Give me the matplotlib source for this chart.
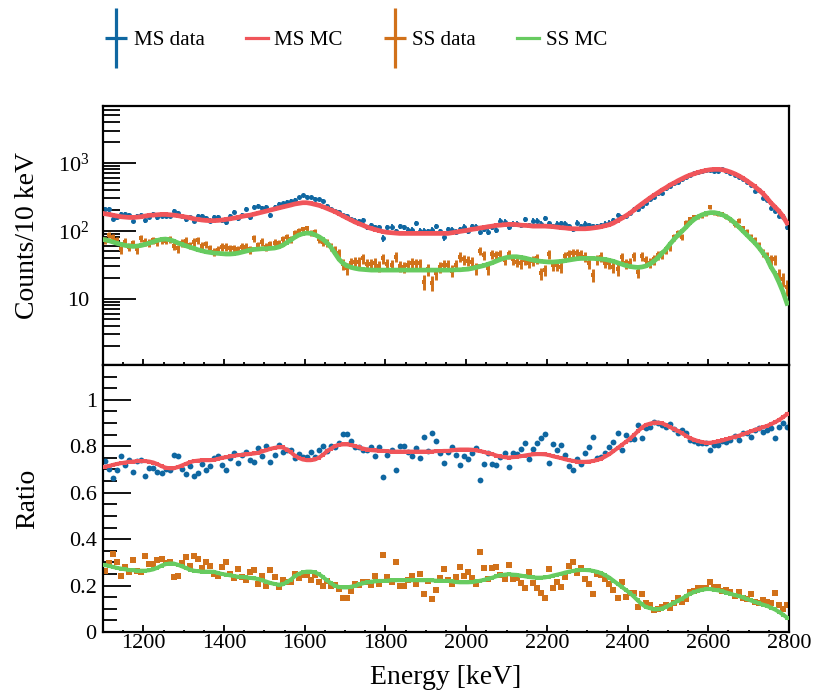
import numpy as np
import matplotlib
matplotlib.use("Agg")
import matplotlib.pyplot as plt
from matplotlib.path import Path
from matplotlib.lines import Line2D
from matplotlib.ticker import (FixedLocator, MultipleLocator, LogLocator,
                               FuncFormatter, NullFormatter)

plt.rcParams['font.family'] = ['Liberation Serif', 'DejaVu Serif']
plt.rcParams['mathtext.fontset'] = 'custom'
plt.rcParams['mathtext.rm'] = 'Liberation Serif'
plt.rcParams['mathtext.default'] = 'regular'

# ---------------- data (10 keV bins, 1100-2800 keV) ----------------
bin_width = 10
e_min, e_max = 1100, 2800
energy = np.arange(e_min + bin_width / 2, e_max, bin_width)

ms_data = [206, 206, 150, 157, 176, 176, 172, 141, 165, 170,
           144, 161, 176, 157, 165, 165, 165, 195, 184, 165,
           147, 157, 141, 165, 165, 152, 141, 157, 157, 144,
           134, 165, 189, 152, 168, 211, 157, 221, 231, 216,
           221, 168, 226, 248, 253, 268, 277, 284, 310, 332,
           318, 310, 297, 290, 277, 231, 211, 197, 191, 172,
           165, 147, 141, 137, 144, 112, 120, 112, 112, 78,
           112, 115, 98, 117, 112, 102, 102, 128, 100, 100,
           98, 102, 117, 98, 80, 105, 102, 97, 105, 115,
           100, 117, 115, 96, 105, 97, 115, 102, 141, 136,
           112, 126, 126, 121, 147, 121, 141, 141, 126, 152,
           128, 117, 126, 128, 126, 117, 105, 131, 117, 126,
           121, 117, 117, 121, 126, 131, 144, 170, 157, 165,
           180, 211, 206, 231, 259, 290, 318, 356, 364, 421,
           456, 499, 522, 572, 612, 655, 701, 733, 768, 785,
           785, 768, 768, 821, 768, 701, 662, 612, 572, 528,
           470, 380, 400, 305, 280, 215, 195, 165, 160, 113]

ss_data = [72.9, 86.4, 79.9, 72.9, 53.1, 68.9, 58.2, 65.1, 53.1, 77.2,
           68.9, 66.6, 72.9, 68.9, 72.9, 71.3, 74.5, 59.5, 55.0, 66.6,
           71.3, 61.5, 68.9, 72.9, 59.5, 63.7, 55.0, 49.1, 51.9, 58.2,
           58.2, 55.0, 55.0, 53.1, 58.2, 58.2, 53.1, 77.2, 61.5, 68.9,
           58.2, 63.7, 66.6, 65.1, 74.5, 79.9, 74.5, 91.4, 100, 105,
           108, 93.5, 96.8, 74.5, 68.9, 66.6, 58.2, 51.9, 47.4, 32.3,
           27.9, 33.8, 35.0, 35.0, 39.1, 32.3, 32.3, 33.8, 30.2, 39.1,
           32.3, 31.2, 41.4, 30.2, 29.5, 31.2, 33.8, 33.0, 33.0, 17.7,
           26.9, 17.1, 23.5, 29.5, 31.2, 31.2, 25.7, 31.2, 41.4, 37.8,
           36.2, 35.0, 27.9, 50.8, 43.8, 27.9, 45.4, 43.8, 45.4, 37.0,
           45.4, 37.8, 35.0, 33.0, 37.0, 33.8, 36.2, 39.1, 23.5, 26.3,
           45.4, 31.2, 31.2, 29.5, 42.3, 45.4, 47.4, 46.4, 45.4, 41.4,
           33.0, 22.2, 37.8, 41.4, 33.8, 33.0, 29.5, 26.9, 40.5, 33.0,
           33.8, 42.3, 24.9, 42.3, 37.0, 33.8, 37.8, 43.8, 45.4, 51.9,
           58.2, 79.9, 91.4, 81.7, 131, 147, 157, 161, 165, 176,
           221, 184, 176, 176, 161, 147, 126, 141, 108, 96.8,
           81.7, 72.9, 59.5, 47.4, 41.4, 37.8, 37.8, 22.2, 19.2, 14.9]

ms_mc = [178, 174, 169, 165, 161, 159, 157, 157, 159, 161,
         165, 169, 170, 172, 174, 174, 172, 170, 167, 163,
         159, 156, 150, 147, 144, 142, 141, 141, 142, 144,
         147, 150, 154, 157, 163, 167, 170, 176, 182, 189,
         195, 202, 209, 216, 224, 231, 239, 248, 253, 259,
         259, 253, 245, 237, 226, 214, 202, 191, 178, 165,
         154, 144, 134, 127, 120, 113, 108, 104, 100, 96.8,
         94.6, 93.5, 92.5, 91.4, 91.4, 91.4, 91.4, 91.4, 91.4, 91.4,
         91.4, 91.4, 91.4, 91.4, 91.4, 91.4, 93.5, 95.7, 97.9, 100,
         102, 105, 107, 110, 112, 115, 117, 120, 121, 123,
         124, 124, 123, 121, 120, 119, 117, 117, 117, 117,
         116, 115, 113, 111, 110, 108, 107, 107, 107, 107,
         108, 110, 112, 115, 119, 123, 130, 141, 152, 165,
         180, 200, 224, 248, 274, 303, 332, 364, 398, 431,
         472, 505, 547, 585, 626, 662, 693, 725, 750, 776,
         794, 803, 803, 794, 767, 733, 693, 648, 598, 547,
         495, 450, 400, 356, 305, 258, 225, 195, 163, 130]

ss_mc = [73.7, 71.3, 68.1, 65.1, 62.9, 60.8, 59.5, 58.8, 59.5, 60.8,
         62.9, 65.8, 68.9, 72.1, 74.6, 75.4, 73.7, 70.5, 66.6, 62.9,
         60.1, 57.5, 55.0, 52.5, 50.7, 49.0, 47.9, 46.9, 46.4, 45.9,
         45.4, 45.4, 45.9, 46.9, 48.5, 50.2, 51.9, 53.1, 53.7, 54.3,
         54.3, 55.0, 55.6, 57.5, 60.8, 66.6, 72.9, 79.9, 86.4, 90.4,
         92.5, 91.4, 87.4, 81.7, 74.6, 66.6, 56.9, 46.4, 37.8, 33.0,
         30.5, 28.8, 27.9, 27.2, 26.9, 26.6, 26.3, 26.3, 26.3, 26.3,
         26.3, 26.3, 26.3, 26.3, 26.3, 26.3, 26.3, 26.3, 26.3, 26.3,
         26.3, 26.3, 26.3, 26.3, 26.3, 26.3, 26.3, 26.6, 26.6, 26.9,
         27.2, 27.9, 28.8, 29.8, 30.8, 32.3, 33.8, 35.8, 37.8, 39.6,
         40.9, 41.4, 41.4, 40.5, 39.6, 38.3, 37.0, 36.2, 35.4, 35.0,
         34.6, 34.6, 35.0, 35.4, 36.2, 37.0, 37.8, 38.7, 39.1, 39.1,
         39.1, 39.1, 38.7, 38.3, 37.8, 36.6, 35.4, 33.8, 32.3, 30.8,
         29.8, 29.2, 28.8, 29.2, 30.2, 32.3, 35.4, 40.1, 46.4, 53.1,
         63.6, 74.6, 86.4, 99.0, 113, 131, 147, 161, 172, 180,
         185, 185, 180, 172, 161, 147, 131, 115, 100, 87.4,
         76.3, 66.6, 56.9, 47.4, 39.6, 29.5, 23.5, 17.5, 12.6, 8.5]

# MS fraction (MS / (MS + SS)) in the lower panel; SS fraction is its complement
ms_ratio_data = [0.737, 0.704, 0.662, 0.699, 0.757, 0.718, 0.740, 0.689, 0.737, 0.740,
                 0.671, 0.708, 0.708, 0.691, 0.685, 0.702, 0.699, 0.763, 0.757, 0.702,
                 0.679, 0.714, 0.671, 0.685, 0.725, 0.699, 0.714, 0.751, 0.757, 0.718,
                 0.697, 0.751, 0.769, 0.728, 0.763, 0.776, 0.740, 0.734, 0.792, 0.757,
                 0.801, 0.731, 0.763, 0.806, 0.777, 0.786, 0.786, 0.751, 0.766, 0.754,
                 0.754, 0.777, 0.754, 0.786, 0.801, 0.780, 0.801, 0.798, 0.815, 0.853,
                 0.853, 0.824, 0.795, 0.798, 0.783, 0.783, 0.798, 0.757, 0.795, 0.668,
                 0.763, 0.783, 0.699, 0.801, 0.801, 0.776, 0.757, 0.792, 0.751, 0.838,
                 0.780, 0.858, 0.821, 0.769, 0.728, 0.776, 0.795, 0.762, 0.718, 0.757,
                 0.743, 0.769, 0.792, 0.656, 0.725, 0.772, 0.723, 0.720, 0.754, 0.772,
                 0.711, 0.772, 0.766, 0.790, 0.812, 0.743, 0.790, 0.812, 0.834, 0.853,
                 0.728, 0.809, 0.786, 0.805, 0.762, 0.714, 0.697, 0.747, 0.725, 0.772,
                 0.795, 0.838, 0.751, 0.754, 0.772, 0.795, 0.819, 0.855, 0.786, 0.848,
                 0.832, 0.832, 0.892, 0.835, 0.877, 0.884, 0.905, 0.899, 0.892, 0.882,
                 0.896, 0.873, 0.855, 0.870, 0.858, 0.829, 0.824, 0.812, 0.812, 0.812,
                 0.783, 0.805, 0.805, 0.824, 0.819, 0.829, 0.844, 0.829, 0.855, 0.858,
                 0.838, 0.870, 0.877, 0.863, 0.870, 0.877, 0.834, 0.884, 0.902, 0.884]

ms_ratio_mc = [0.712, 0.715, 0.720, 0.724, 0.727, 0.730, 0.733, 0.734, 0.736, 0.736,
               0.736, 0.734, 0.730, 0.723, 0.714, 0.708, 0.705, 0.705, 0.710, 0.717,
               0.724, 0.731, 0.736, 0.738, 0.740, 0.740, 0.740, 0.741, 0.746, 0.750,
               0.753, 0.756, 0.759, 0.762, 0.763, 0.765, 0.767, 0.769, 0.772, 0.778,
               0.783, 0.789, 0.793, 0.796, 0.795, 0.786, 0.775, 0.760, 0.750, 0.743,
               0.740, 0.740, 0.743, 0.751, 0.763, 0.778, 0.790, 0.801, 0.806, 0.808,
               0.808, 0.805, 0.801, 0.795, 0.790, 0.786, 0.783, 0.782, 0.780, 0.780,
               0.779, 0.777, 0.777, 0.777, 0.777, 0.777, 0.777, 0.777, 0.777, 0.777,
               0.777, 0.777, 0.779, 0.779, 0.780, 0.780, 0.782, 0.785, 0.786, 0.786,
               0.786, 0.785, 0.782, 0.779, 0.775, 0.770, 0.766, 0.760, 0.756, 0.753,
               0.751, 0.753, 0.754, 0.757, 0.760, 0.763, 0.765, 0.766, 0.766, 0.765,
               0.762, 0.757, 0.753, 0.749, 0.744, 0.740, 0.737, 0.734, 0.733, 0.733,
               0.734, 0.737, 0.741, 0.747, 0.756, 0.766, 0.779, 0.792, 0.805, 0.818,
               0.831, 0.847, 0.864, 0.880, 0.892, 0.897, 0.902, 0.902, 0.899, 0.892,
               0.883, 0.874, 0.866, 0.856, 0.845, 0.835, 0.828, 0.822, 0.818, 0.815,
               0.815, 0.818, 0.821, 0.825, 0.830, 0.835, 0.841, 0.845, 0.851, 0.857,
               0.864, 0.870, 0.876, 0.882, 0.887, 0.895, 0.903, 0.913, 0.925, 0.938]

labels = ["MS data", "MS MC", "SS data", "SS MC"]
x_major = [1200, 1400, 1600, 1800, 2000, 2200, 2400, 2600, 2800]

# ---------------- style ----------------
c_blue = '#0f67a1'
c_red = '#f0555a'
c_orange = '#d1711a'
c_green = '#67cb60'

ms_data = np.array(ms_data, float)
ss_data = np.array(ss_data, float)
ms_mc = np.array(ms_mc, float)
ss_mc = np.array(ss_mc, float)
ms_ratio_data = np.array(ms_ratio_data, float)
ms_ratio_mc = np.array(ms_ratio_mc, float)
ss_ratio_data = 1.0 - ms_ratio_data
ss_ratio_mc = 1.0 - ms_ratio_mc

W, H = 814, 697
fig = plt.figure(figsize=(W / 100, H / 100), dpi=100)
left, right = 103 / W, 789 / W
ax1 = fig.add_axes([left, 1 - 365 / H, right - left, 259 / H])
ax2 = fig.add_axes([left, 1 - 632 / H, right - left, 267 / H])

# upper panel
ax1.errorbar(energy, ms_data, yerr=np.sqrt(ms_data), fmt='o', color=c_blue,
             ms=3.6, mew=0, elinewidth=1.3, capsize=0, zorder=2)
ax1.errorbar(energy, ss_data, yerr=np.sqrt(ss_data), fmt='s', color=c_orange,
             ms=2.6, mew=0, elinewidth=2.1, capsize=0, zorder=2)
ax1.plot(energy, ms_mc, color=c_red, lw=3.4, marker='s', ms=3.4, mew=0, zorder=3)
ax1.plot(energy, ss_mc, color=c_green, lw=3.4, marker='s', ms=3.4, mew=0, zorder=3)
ax1.set_yscale('log')
ax1.set_xlim(e_min, e_max)
ax1.set_ylim(1.05, 6900)
ax1.set_ylabel('Counts/10 keV', fontsize=20)

def log_fmt(v, pos):
    exp = int(round(np.log10(v)))
    if exp < 1:
        return ''
    if exp == 1:
        return '10'
    return r'$10^{%d}$' % exp

ax1.yaxis.set_major_locator(FixedLocator([1, 10, 100, 1000]))
ax1.yaxis.set_major_formatter(FuncFormatter(log_fmt))
ax1.yaxis.set_minor_locator(LogLocator(base=10, subs=np.arange(2, 10), numticks=20))
ax1.yaxis.set_minor_formatter(NullFormatter())
ax1.xaxis.set_major_locator(FixedLocator(x_major))
ax1.xaxis.set_minor_locator(MultipleLocator(50))
ax1.tick_params(axis='y', which='major', direction='in', length=24, width=1.3,
                labelsize=16, pad=10, right=False)
ax1.tick_params(axis='y', which='minor', direction='in', length=12, width=1.3, right=False)
ax1.tick_params(axis='x', which='major', direction='in', length=4, width=1.3,
                labelbottom=False, top=False)
ax1.tick_params(axis='x', which='minor', direction='in', length=2.2, width=1.3, top=False)

# lower panel
ax2.plot(energy, ms_ratio_data, 'o', color=c_blue, ms=4.2, mew=0, zorder=2)
ax2.plot(energy, ss_ratio_data, 's', color=c_orange, ms=4.6, mew=0, zorder=2)
ax2.plot(energy, ms_ratio_mc, color=c_red, lw=2.9, marker='s', ms=2.9, mew=0, zorder=3)
ax2.plot(energy, ss_ratio_mc, color=c_green, lw=2.9, marker='s', ms=2.9, mew=0, zorder=3)
ax2.set_xlim(e_min, e_max)
ax2.set_ylim(0, 1.15)
ax2.set_ylabel('Ratio', fontsize=20)
ax2.set_xlabel('Energy [keV]', fontsize=20)
ax2.yaxis.set_major_locator(FixedLocator([0, 0.2, 0.4, 0.6, 0.8, 1.0]))
ax2.yaxis.set_major_formatter(FuncFormatter(lambda v, p: '%g' % round(v, 2)))
ax2.yaxis.set_minor_locator(MultipleLocator(0.05))
ax2.xaxis.set_major_locator(FixedLocator(x_major))
ax2.xaxis.set_minor_locator(MultipleLocator(50))
ax2.tick_params(axis='y', which='major', direction='in', length=20, width=1.3,
                labelsize=16, pad=4.5, right=False)
ax2.tick_params(axis='y', which='minor', direction='in', length=10, width=1.3, right=False)
ax2.tick_params(axis='x', which='major', direction='in', length=4.8, width=1.3,
                labelsize=16, pad=1.8, top=False)
ax2.tick_params(axis='x', which='minor', direction='in', length=1.8, width=1.3, top=False)

for ax in (ax1, ax2):
    for sp in ax.spines.values():
        sp.set_linewidth(1.6)
    ax.yaxis.set_label_coords(-0.092, 0.5)
ax2.xaxis.set_label_coords(0.5, -0.125)

# legend
cross = Path([(0, -1), (0, 1), (-0.38, 0), (0.38, 0)],
             [Path.MOVETO, Path.LINETO, Path.MOVETO, Path.LINETO])
handles = [
    Line2D([], [], ls='None', marker=cross, markersize=43, markeredgewidth=2.3, color=c_blue),
    Line2D([], [], color=c_red, lw=2.3),
    Line2D([], [], ls='None', marker=cross, markersize=43, markeredgewidth=2.3, color=c_orange),
    Line2D([], [], color=c_green, lw=2.3),
]
fig.legend(handles, labels, loc='center left', bbox_to_anchor=(105 / W, 1 - 40 / H),
           ncol=4, frameon=False, fontsize=15.2, handlelength=1.05, handletextpad=0.3,
           columnspacing=1.95, borderpad=0, borderaxespad=0)

fig.savefig('out.png', dpi=100)
